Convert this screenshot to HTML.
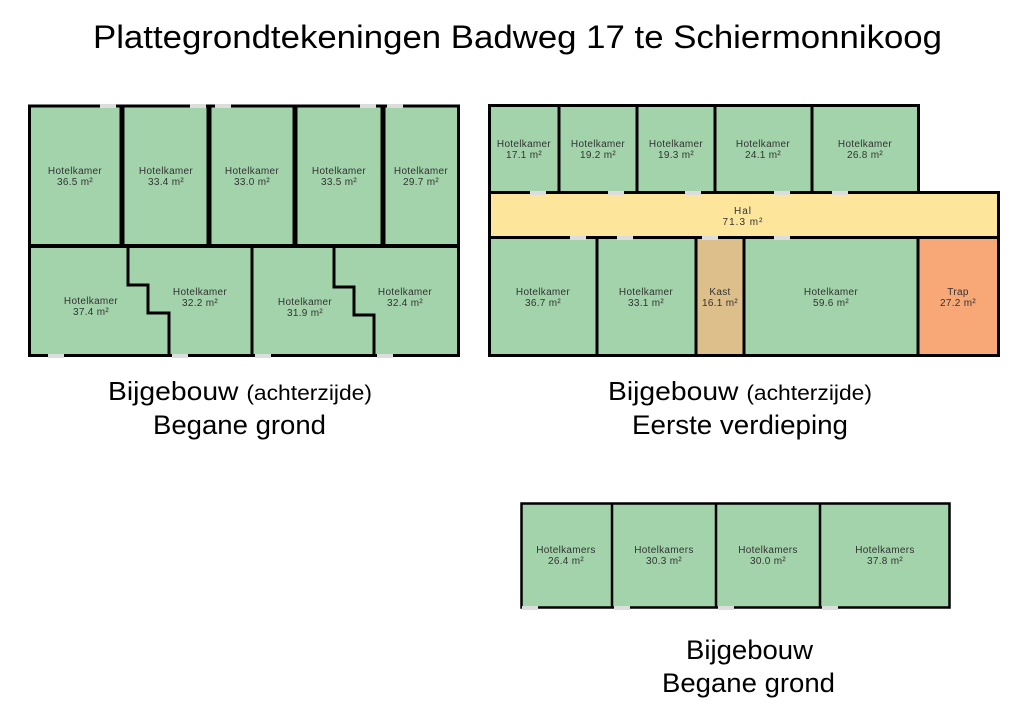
<!DOCTYPE html>
<html><head><meta charset="utf-8"><style>
html,body{margin:0;padding:0;background:#fff;}
svg{display:block;}
.r{font-family:"Liberation Sans",sans-serif;font-size:10px;letter-spacing:0.3px;fill:#333;text-anchor:middle;}
.L{font-family:"Liberation Sans",sans-serif;fill:#000;}
</style></head><body>
<svg width="1024" height="715" viewBox="0 0 1024 715" xmlns="http://www.w3.org/2000/svg">
<text class="L" x="93" y="48" font-size="32" textLength="849" lengthAdjust="spacingAndGlyphs">Plattegrondtekeningen Badweg 17 te Schiermonnikoog</text>

<!-- Left plan -->
<g stroke="#000" fill="#a3d3ab">
<rect x="29.5" y="106" width="429" height="249.5" stroke-width="3"/>
</g>
<g stroke="#000" fill="none">
<line x1="29" y1="246" x2="459" y2="246" stroke-width="4"/>
<line x1="122" y1="106" x2="122" y2="246" stroke-width="5"/>
<line x1="209" y1="106" x2="209" y2="246" stroke-width="5"/>
<line x1="295" y1="106" x2="295" y2="246" stroke-width="5"/>
<line x1="383" y1="106" x2="383" y2="246" stroke-width="5"/>
<polyline points="128,246 128,285 148,285 148,313 169,313 169,356" stroke-width="3"/>
<line x1="252" y1="246" x2="252" y2="356" stroke-width="3"/>
<polyline points="334,246 334,287 354,287 354,315 374,315 374,356" stroke-width="3"/>
</g>
<g fill="#ddd">
<rect x="100" y="104" width="16" height="4"/><rect x="190" y="104" width="16" height="4"/><rect x="215" y="104" width="16" height="4"/>
<rect x="360" y="104" width="16" height="4"/><rect x="387" y="104" width="16" height="4"/>
<rect x="48" y="354" width="16" height="4"/><rect x="172" y="354" width="16" height="4"/><rect x="255" y="354" width="16" height="4"/><rect x="377" y="354" width="16" height="4"/>
</g>
<g class="r">
<text x="75" y="174">Hotelkamer</text><text x="75" y="185">36.5 m²</text>
<text x="166" y="174">Hotelkamer</text><text x="166" y="185">33.4 m²</text>
<text x="252" y="174">Hotelkamer</text><text x="252" y="185">33.0 m²</text>
<text x="339" y="174">Hotelkamer</text><text x="339" y="185">33.5 m²</text>
<text x="421" y="174">Hotelkamer</text><text x="421" y="185">29.7 m²</text>
<text x="91" y="304">Hotelkamer</text><text x="91" y="315">37.4 m²</text>
<text x="200" y="295">Hotelkamer</text><text x="200" y="306">32.2 m²</text>
<text x="305" y="305">Hotelkamer</text><text x="305" y="316">31.9 m²</text>
<text x="405" y="295">Hotelkamer</text><text x="405" y="306">32.4 m²</text>
</g>
<text class="L" x="108" y="400" font-size="26" textLength="264" lengthAdjust="spacingAndGlyphs">Bijgebouw <tspan font-size="21">(achterzijde)</tspan></text>
<text class="L" x="153" y="434" font-size="27" textLength="173" lengthAdjust="spacingAndGlyphs">Begane grond</text>

<!-- Right plan -->
<g stroke="#000" stroke-width="3">
<rect x="489.5" y="105.5" width="429" height="87" fill="#a3d3ab"/>
<rect x="489.5" y="192.5" width="509" height="45" fill="#fde69b"/>
<rect x="489.5" y="237.5" width="509" height="118" fill="#a3d3ab"/>
<rect x="696" y="237.5" width="48" height="118" fill="#dcbf8b"/>
<rect x="918" y="237.5" width="80.5" height="118" fill="#f8a777"/>
<line x1="559" y1="105" x2="559" y2="193"/>
<line x1="637" y1="105" x2="637" y2="193"/>
<line x1="715" y1="105" x2="715" y2="193"/>
<line x1="812" y1="105" x2="812" y2="193"/>
<line x1="597" y1="237" x2="597" y2="356"/>
</g>
<g fill="#ddd">
<rect x="530" y="191" width="16" height="4"/><rect x="608" y="191" width="16" height="4"/><rect x="685" y="191" width="16" height="4"/><rect x="774" y="191" width="16" height="4"/><rect x="832" y="191" width="16" height="4"/>
<rect x="570" y="236" width="16" height="4"/><rect x="617" y="236" width="16" height="4"/><rect x="702" y="236" width="16" height="4"/><rect x="774" y="236" width="16" height="4"/>
</g>
<g class="r">
<text x="524" y="147">Hotelkamer</text><text x="524" y="158">17.1 m²</text>
<text x="598" y="147">Hotelkamer</text><text x="598" y="158">19.2 m²</text>
<text x="676" y="147">Hotelkamer</text><text x="676" y="158">19.3 m²</text>
<text x="763" y="147">Hotelkamer</text><text x="763" y="158">24.1 m²</text>
<text x="865" y="147">Hotelkamer</text><text x="865" y="158">26.8 m²</text>
<text x="743" y="214" letter-spacing="1">Hal</text><text x="743" y="225" letter-spacing="1">71.3 m²</text>
<text x="543" y="295">Hotelkamer</text><text x="543" y="306">36.7 m²</text>
<text x="646" y="295">Hotelkamer</text><text x="646" y="306">33.1 m²</text>
<text x="720" y="295">Kast</text><text x="720" y="306">16.1 m²</text>
<text x="831" y="295">Hotelkamer</text><text x="831" y="306">59.6 m²</text>
<text x="958" y="295">Trap</text><text x="958" y="306">27.2 m²</text>
</g>
<text class="L" x="608" y="400" font-size="26" textLength="264" lengthAdjust="spacingAndGlyphs">Bijgebouw <tspan font-size="21">(achterzijde)</tspan></text>
<text class="L" x="632" y="434" font-size="27" textLength="216" lengthAdjust="spacingAndGlyphs">Eerste verdieping</text>

<!-- Bottom plan -->
<g stroke="#000" stroke-width="2.5">
<rect x="521.5" y="503.5" width="428" height="104" fill="#a3d3ab"/>
<line x1="612" y1="503" x2="612" y2="608"/>
<line x1="716" y1="503" x2="716" y2="608"/>
<line x1="820" y1="503" x2="820" y2="608"/>
</g>
<g fill="#ddd">
<rect x="522" y="606" width="16" height="4"/><rect x="614" y="606" width="16" height="4"/><rect x="718" y="606" width="16" height="4"/><rect x="822" y="606" width="16" height="4"/>
</g>
<g class="r">
<text x="566" y="553">Hotelkamers</text><text x="566" y="564">26.4 m²</text>
<text x="664" y="553">Hotelkamers</text><text x="664" y="564">30.3 m²</text>
<text x="768" y="553">Hotelkamers</text><text x="768" y="564">30.0 m²</text>
<text x="885" y="553">Hotelkamers</text><text x="885" y="564">37.8 m²</text>
</g>
<text class="L" x="686" y="659" font-size="27" textLength="127" lengthAdjust="spacingAndGlyphs">Bijgebouw</text>
<text class="L" x="662" y="692" font-size="27" textLength="173" lengthAdjust="spacingAndGlyphs">Begane grond</text>
</svg>
</body></html>
